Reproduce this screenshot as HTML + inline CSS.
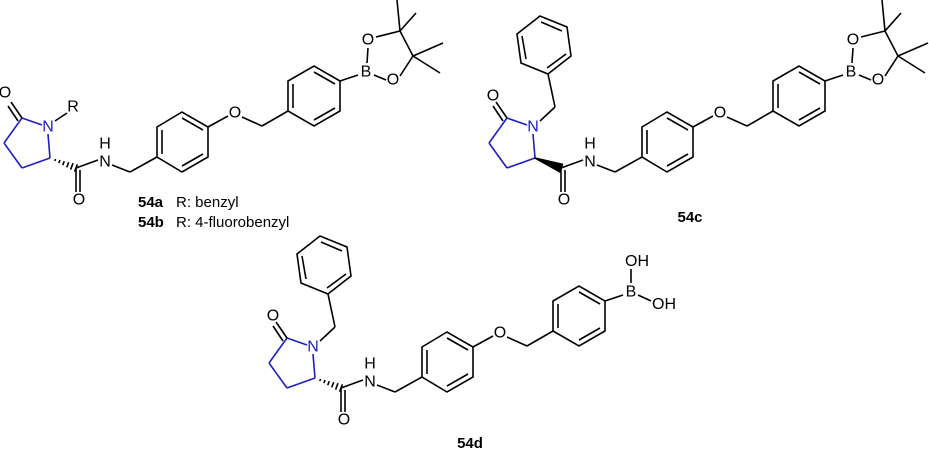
<!DOCTYPE html>
<html><head><meta charset="utf-8"><style>
html,body{margin:0;padding:0;background:#fff;}
svg{display:block;}
text{font-family:"Liberation Sans",Arial,sans-serif;font-size:16px;fill:#000;}
.c{text-anchor:middle;dominant-baseline:central;}
</style></head><body>
<svg width="929" height="450" viewBox="0 0 929 450" xmlns="http://www.w3.org/2000/svg">
<!-- 54a -->
<g id="m1">
<g stroke="#1f1fc0" stroke-width="1.6" fill="none">
<line x1="22" y1="118" x2="42" y2="125"/>
<line x1="48" y1="134" x2="50" y2="158"/>
<line x1="50" y1="158" x2="22" y2="168"/>
<line x1="22" y1="168" x2="4" y2="143"/>
<line x1="4" y1="143" x2="22" y2="118"/>
</g>
<g stroke="#000" stroke-width="1.6" fill="none">
<line x1="22" y1="118" x2="11" y2="102"/><line x1="18" y1="121" x2="8" y2="106"/>
<line x1="55" y1="121" x2="67" y2="113"/>
<line x1="54.8" y1="161" x2="55.6" y2="159"/><line x1="58.8" y1="163.1" x2="60" y2="160.1"/><line x1="62.7" y1="165.2" x2="64.3" y2="161.2"/><line x1="66.7" y1="167.4" x2="68.7" y2="162.2"/><line x1="70.6" y1="169.6" x2="73" y2="163.2"/><line x1="74.6" y1="171.7" x2="77.4" y2="164.3"/>
<line x1="76" y1="168" x2="76" y2="192"/><line x1="80" y1="170" x2="80" y2="192"/>
<line x1="76" y1="168" x2="98" y2="160"/>
<line x1="112" y1="165" x2="130" y2="172"/><line x1="130" y1="172" x2="157" y2="157"/>
<polygon points="157,127 182,112 208,127 208,157 182,172 157,157"/>
<line x1="162" y1="130" x2="162" y2="154"/><line x1="182" y1="118" x2="203" y2="130"/><line x1="203" y1="154" x2="182" y2="166"/>
<line x1="208" y1="127" x2="228" y2="116"/><line x1="242" y1="117" x2="262" y2="126"/><line x1="262" y1="126" x2="288" y2="111"/>
<polygon points="288,81 314,66 340,81 340,111 314,126 288,111"/>
<line x1="293" y1="84" x2="293" y2="108"/><line x1="314" y1="72" x2="335" y2="84"/><line x1="335" y1="108" x2="314" y2="120"/>
<line x1="340" y1="81" x2="358" y2="75"/>
<line x1="367" y1="63" x2="368" y2="48"/><line x1="374" y1="75" x2="386" y2="80"/>
<line x1="376" y1="37" x2="400" y2="31"/><line x1="400" y1="76" x2="413" y2="56"/><line x1="400" y1="31" x2="413" y2="56"/>
<line x1="400" y1="31" x2="397" y2="0"/><line x1="400" y1="31" x2="416" y2="13"/>
<line x1="413" y1="56" x2="443" y2="43"/><line x1="413" y1="56" x2="440" y2="73"/>
</g>
<text class="c" x="5" y="93">O</text>
<text class="c" x="48" y="127" style="fill:#1f1fc0">N</text>
<text class="c" x="73" y="107">R</text>
<text class="c" x="79" y="200">O</text>
<text class="c" x="105" y="162">N</text>
<text class="c" x="105" y="144">H</text>
<text class="c" x="235" y="113">O</text>
<text class="c" x="366" y="72">B</text>
<text class="c" x="368" y="40">O</text>
<text class="c" x="393" y="80">O</text>
</g>
<text x="138" y="207" style="font-size:15px;font-weight:bold">54a</text>
<text x="176" y="207" style="font-size:15px">R: benzyl</text>
<text x="138" y="227" style="font-size:15px;font-weight:bold">54b</text>
<text x="176" y="227" style="font-size:15px">R: 4-fluorobenzyl</text>

<!-- 54c -->
<g transform="translate(485,0)">
<g stroke="#1f1fc0" stroke-width="1.6" fill="none">
<line x1="22" y1="118" x2="42" y2="125"/>
<line x1="48" y1="134" x2="50" y2="158"/>
<line x1="50" y1="158" x2="22" y2="168"/>
<line x1="22" y1="168" x2="4" y2="143"/>
<line x1="4" y1="143" x2="22" y2="118"/>
</g>
<g stroke="#000" stroke-width="1.6" fill="none">
<line x1="22" y1="118" x2="11" y2="102"/><line x1="18" y1="121" x2="8" y2="106"/>
<line x1="55" y1="121" x2="70" y2="107"/><line x1="70" y1="107" x2="63" y2="74"/>
<polygon points="63,74 36,63 32,34 55,16 82,27 86,56"/>
<line x1="41" y1="59" x2="37" y2="36"/><line x1="56" y1="22" x2="77" y2="31"/><line x1="81" y1="54" x2="62" y2="68"/>
<polygon points="50,158 74.6,171.7 77.4,164.3" fill="#000"/>
<line x1="76" y1="168" x2="76" y2="192"/><line x1="80" y1="170" x2="80" y2="192"/>
<line x1="76" y1="168" x2="98" y2="160"/>
<line x1="112" y1="165" x2="130" y2="172"/><line x1="130" y1="172" x2="157" y2="157"/>
<polygon points="157,127 182,112 208,127 208,157 182,172 157,157"/>
<line x1="162" y1="130" x2="162" y2="154"/><line x1="182" y1="118" x2="203" y2="130"/><line x1="203" y1="154" x2="182" y2="166"/>
<line x1="208" y1="127" x2="228" y2="116"/><line x1="242" y1="117" x2="262" y2="126"/><line x1="262" y1="126" x2="288" y2="111"/>
<polygon points="288,81 314,66 340,81 340,111 314,126 288,111"/>
<line x1="293" y1="84" x2="293" y2="108"/><line x1="314" y1="72" x2="335" y2="84"/><line x1="335" y1="108" x2="314" y2="120"/>
<line x1="340" y1="81" x2="358" y2="75"/>
<line x1="367" y1="63" x2="368" y2="48"/><line x1="374" y1="75" x2="386" y2="80"/>
<line x1="376" y1="37" x2="400" y2="31"/><line x1="400" y1="76" x2="413" y2="56"/><line x1="400" y1="31" x2="413" y2="56"/>
<line x1="400" y1="31" x2="397" y2="0"/><line x1="400" y1="31" x2="416" y2="13"/>
<line x1="413" y1="56" x2="443" y2="43"/><line x1="413" y1="56" x2="440" y2="73"/>
</g>
<text class="c" x="8" y="96">O</text>
<text class="c" x="48" y="127" style="fill:#1f1fc0">N</text>
<text class="c" x="79" y="200">O</text>
<text class="c" x="105" y="162">N</text>
<text class="c" x="105" y="144">H</text>
<text class="c" x="235" y="113">O</text>
<text class="c" x="366" y="72">B</text>
<text class="c" x="368" y="40">O</text>
<text class="c" x="393" y="80">O</text>
</g>
<text x="690" y="222" text-anchor="middle" style="font-size:15px;font-weight:bold">54c</text>

<!-- 54d -->
<g transform="translate(265,220)">
<g stroke="#1f1fc0" stroke-width="1.6" fill="none">
<line x1="22" y1="118" x2="42" y2="125"/>
<line x1="48" y1="134" x2="50" y2="158"/>
<line x1="50" y1="158" x2="22" y2="168"/>
<line x1="22" y1="168" x2="4" y2="143"/>
<line x1="4" y1="143" x2="22" y2="118"/>
</g>
<g stroke="#000" stroke-width="1.6" fill="none">
<line x1="22" y1="118" x2="11" y2="102"/><line x1="18" y1="121" x2="8" y2="106"/>
<line x1="55" y1="121" x2="70" y2="107"/><line x1="70" y1="107" x2="63" y2="74"/>
<polygon points="63,74 36,63 32,34 55,16 82,27 86,56"/>
<line x1="41" y1="59" x2="37" y2="36"/><line x1="56" y1="22" x2="77" y2="31"/><line x1="81" y1="54" x2="62" y2="68"/>
<line x1="54.8" y1="161" x2="55.6" y2="159"/><line x1="58.8" y1="163.1" x2="60" y2="160.1"/><line x1="62.7" y1="165.2" x2="64.3" y2="161.2"/><line x1="66.7" y1="167.4" x2="68.7" y2="162.2"/><line x1="70.6" y1="169.6" x2="73" y2="163.2"/><line x1="74.6" y1="171.7" x2="77.4" y2="164.3"/>
<line x1="76" y1="168" x2="76" y2="192"/><line x1="80" y1="170" x2="80" y2="192"/>
<line x1="76" y1="168" x2="98" y2="160"/>
<line x1="112" y1="165" x2="130" y2="172"/><line x1="130" y1="172" x2="157" y2="157"/>
<polygon points="157,127 182,112 208,127 208,157 182,172 157,157"/>
<line x1="162" y1="130" x2="162" y2="154"/><line x1="182" y1="118" x2="203" y2="130"/><line x1="203" y1="154" x2="182" y2="166"/>
<line x1="208" y1="127" x2="228" y2="116"/><line x1="242" y1="117" x2="262" y2="126"/><line x1="262" y1="126" x2="288" y2="111"/>
<polygon points="288,81 314,66 340,81 340,111 314,126 288,111"/>
<line x1="293" y1="84" x2="293" y2="108"/><line x1="314" y1="72" x2="335" y2="84"/><line x1="335" y1="108" x2="314" y2="120"/>
<line x1="340" y1="81" x2="358" y2="75"/>
<line x1="366" y1="63" x2="366" y2="49"/><line x1="373" y1="75" x2="386" y2="81"/>
</g>
<text class="c" x="8" y="96">O</text>
<text class="c" x="48" y="127" style="fill:#1f1fc0">N</text>
<text class="c" x="79" y="200">O</text>
<text class="c" x="105" y="162">N</text>
<text class="c" x="105" y="144">H</text>
<text class="c" x="235" y="113">O</text>
<text class="c" x="366" y="72">B</text>
<text x="360" y="46">OH</text>
<text x="387" y="89">OH</text>
</g>
<text x="470" y="448" text-anchor="middle" style="font-size:15px;font-weight:bold">54d</text>
</svg>
</body></html>
